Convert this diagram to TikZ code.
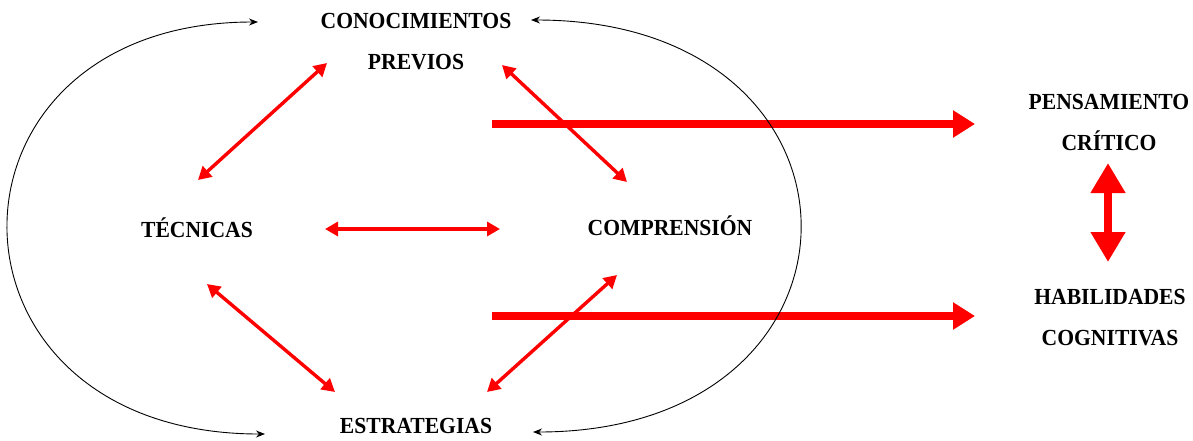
\documentclass[tikz,border=0pt]{standalone}
\usepackage{fontspec}
\setmainfont{Liberation Serif}[FakeStretch=0.94]
\usetikzlibrary{arrows.meta}
\definecolor{rojo}{RGB}{255,0,0}
\begin{document}
\begin{tikzpicture}[x=1pt,y=-1pt,
  lbl/.style={font=\fontsize{23}{41}\selectfont\bfseries, align=center, inner sep=0pt},
  redarr/.style={draw=rojo, line width=3.4pt, {Triangle[length=13pt,width=14pt]}-{Triangle[length=13pt,width=14pt]}},
  bigarr/.style={draw=rojo, line width=8pt, -{Triangle[length=22pt,width=26pt]}},
  vertarr/.style={draw=rojo, line width=8pt, {Triangle[length=30pt,width=33pt]}-{Triangle[length=30pt,width=33pt]}},
  cyc/.style={draw=black, line width=0.9pt, {Stealth[length=9pt,width=7pt]}-{Stealth[length=9pt,width=7pt]}}]
\useasboundingbox (0,0) rectangle (1193,440);
\node[lbl] (cp) at (416,42) {CONOCIMIENTOS\\PREVIOS};
\node[lbl] (tec) at (197,228) {TÉCNICAS};
\node[lbl] (comp) at (670,226) {COMPRENSIÓN};
\node[lbl] (est) at (416,426) {ESTRATEGIAS};
\node[lbl] (pc) at (1109,122) {PENSAMIENTO\\CRÍTICO};
\node[lbl] (hc) at (1110,318) {HABILIDADES\\COGNITIVAS};
% connector end points
\coordinate (cpA) at (327,63);  \coordinate (tecA) at (198,180);
\coordinate (cpB) at (502,65);  \coordinate (compA) at (627,182);
\coordinate (tecB) at (325,229); \coordinate (compB) at (500,229);
\coordinate (tecC) at (207,284); \coordinate (estA) at (335,392);
\coordinate (compC) at (617,275); \coordinate (estB) at (487,392);
\coordinate (s1) at (492,124); \coordinate (pcA) at (975,124);
\coordinate (s2) at (492,316); \coordinate (hcA) at (975,316);
\coordinate (pcB) at (1108,163); \coordinate (hcB) at (1108,262);
\coordinate (cpL) at (258,22); \coordinate (estL) at (265,434);
\coordinate (cpR) at (531,20); \coordinate (estR) at (533,432);
% red arrows
\draw[redarr] (tecA) -- (cpA);
\draw[redarr] (cpB) -- (compA);
\draw[redarr] (tecB) -- (compB);
\draw[redarr] (tecC) -- (estA);
\draw[redarr] (compC) -- (estB);
\draw[bigarr] (s1) -- (pcA);
\draw[bigarr] (s2) -- (hcA);
\draw[vertarr] (pcB) -- (hcB);
% black cycle arcs
\draw[cyc] (cpL) .. controls (-76,22) and (-76,434) .. (estL);
\draw[cyc] (cpR) .. controls (889,20) and (889,432) .. (estR);
\end{tikzpicture}
\end{document}
